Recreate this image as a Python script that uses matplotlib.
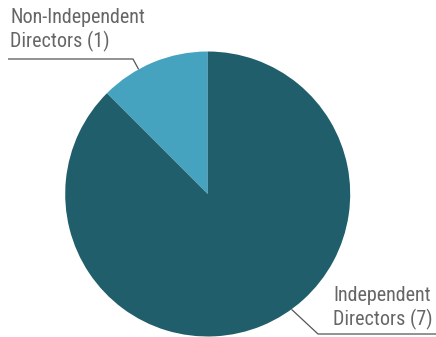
import numpy as np
import matplotlib
matplotlib.use("Agg")
import matplotlib.pyplot as plt
from matplotlib import font_manager

labels = ["Non-Independent\nDirectors (1)", "Independent\nDirectors (7)"]
values = [1, 7]
colors = ["#45a3c0", "#1f5e6a"]

names = {f.name for f in font_manager.fontManager.ttflist}
fam = None
for cand in ["Liberation Sans Narrow", "DejaVu Sans Condensed", "Roboto Condensed", "Open Sans Condensed", "Noto Sans"]:
    if cand in names:
        fam = cand
        break

W, H = 436, 337
fig = plt.figure(figsize=(W / 100, H / 100), dpi=100)
ax = fig.add_axes([0, 0, 1, 1])

cx, cy, r = 207.7, H - 194, 142.5
ax.pie(values, colors=colors, startangle=90, counterclock=True,
       center=(cx, cy), radius=r, frame=True,
       wedgeprops=dict(linewidth=0))
ax.set_xlim(0, W)
ax.set_ylim(0, H)
ax.set_aspect("equal")
ax.axis("off")

lc = "#555555"
# Non-Independent leader
a = np.deg2rad(119)
px, py = cx + r * np.cos(a), cy + r * np.sin(a)
ax.plot([px, 133, 8], [py, H - 59, H - 59], color=lc, lw=0.9, solid_capstyle="butt")
# Independent leader
a = np.deg2rad(-54)
px, py = cx + r * np.cos(a), cy + r * np.sin(a)
ax.plot([px, 318, W], [py, H - 334, H - 334], color=lc, lw=0.9, solid_capstyle="butt")

tc = "#666666"
fs = 14.5
ax.text(10, H - 47, labels[0], ha="left", va="baseline", fontsize=fs,
        color=tc, family=fam, linespacing=1.2)
ax.text(333, H - 325, labels[1], ha="left", va="baseline", fontsize=fs,
        color=tc, family=fam, linespacing=1.2)

fig.savefig("out.png", dpi=100)
